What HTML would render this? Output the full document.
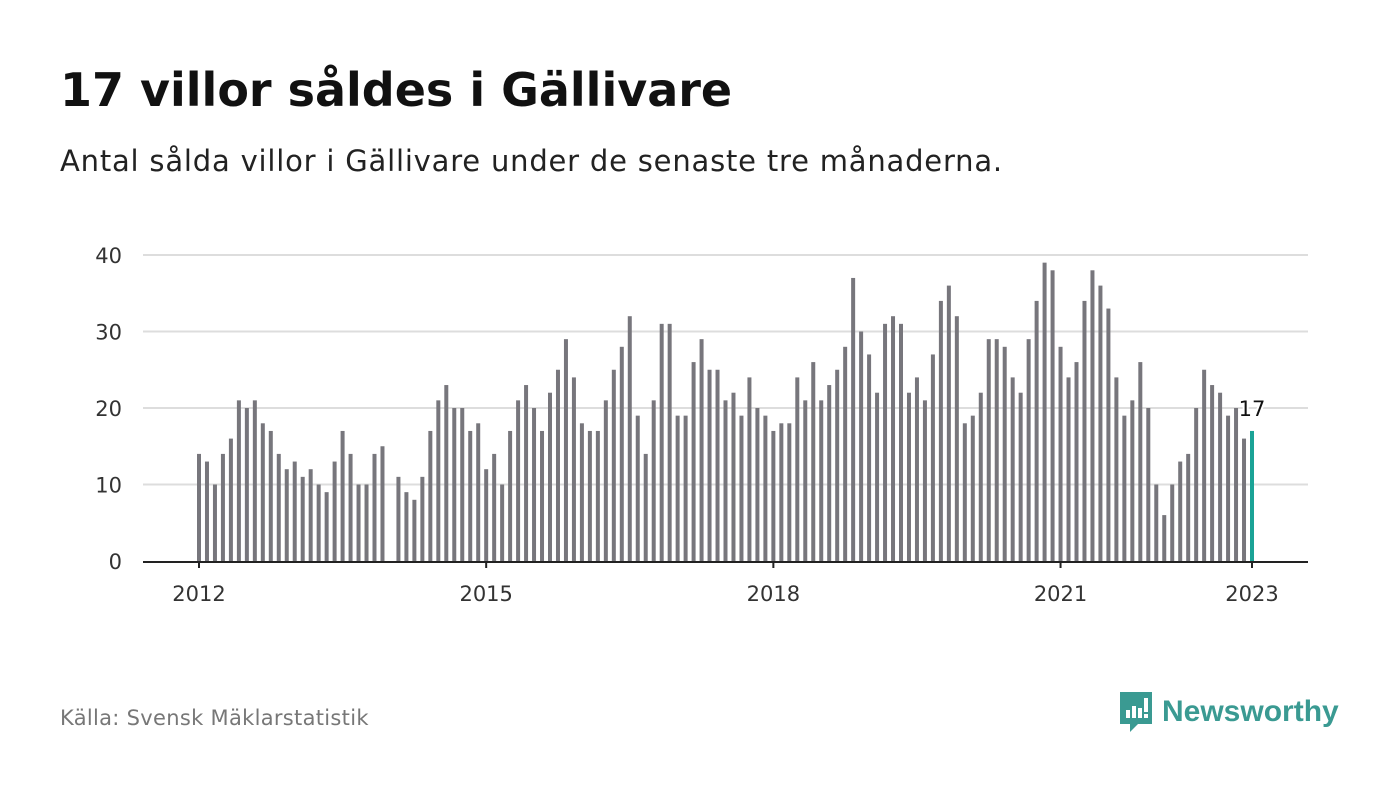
<!DOCTYPE html>
<html><head><meta charset="utf-8"><style>
body{margin:0;width:1400px;height:794px;background:#fff;font-family:"DejaVu Sans","Liberation Sans",sans-serif;overflow:hidden;position:relative}
h1{position:absolute;left:60px;top:63px;margin:0;font-size:46px;font-weight:bold;color:#111;white-space:nowrap}
.sub{position:absolute;left:60px;top:144px;font-size:29px;color:#222;letter-spacing:0.8px;white-space:nowrap}
.src{position:absolute;left:60px;top:706px;font-size:21px;color:#777;letter-spacing:0.3px;white-space:nowrap}
.logo{position:absolute;left:1118px;top:690px;display:flex;align-items:center}
.logo span{font-size:30px;font-weight:bold;color:#3a9a92;margin-left:8px;font-family:"Liberation Sans",sans-serif}
</style></head><body>
<h1>17 villor såldes i Gällivare</h1>
<div class="sub">Antal sålda villor i Gällivare under de senaste tre månaderna.</div>
<svg id="chart" width="1400" height="794" style="position:absolute;left:0;top:0"></svg>
<div class="src">Källa: Svensk Mäklarstatistik</div>
<div class="logo">
<svg width="36" height="44" viewBox="0 0 36 44"><path d="M2 2h32v32H20l-8 8v-8H2z" fill="#3a9a92"/><rect x="8" y="20" width="4" height="8" fill="#fff"/><rect x="14" y="16" width="4" height="12" fill="#fff"/><rect x="20" y="18" width="4" height="10" fill="#fff"/><rect x="26" y="8" width="4" height="14" fill="#fff"/><rect x="26" y="24" width="4" height="4" fill="#fff"/></svg>
<span>Newsworthy</span></div>
<script>
const values=[14,13,10,14,16,21,20,21,18,17,14,12,
13,11,12,10,9,13,17,14,10,10,14,15,
0,11,9,8,11,17,21,23,20,20,17,18,
12,14,10,17,21,23,20,17,22,25,29,24,
18,17,17,21,25,28,32,19,14,21,31,31,
19,19,26,29,25,25,21,22,19,24,20,19,
17,18,18,24,21,26,21,23,25,28,37,30,
27,22,31,32,31,22,24,21,27,34,36,32,
18,19,22,29,29,28,24,22,29,34,39,38,
28,24,26,34,38,36,33,24,19,21,26,20,
10,6,10,13,14,20,25,23,22,19,20,16,
17];
const yTicks=[0,10,20,30,40];
const xTickLabels=["2012","2015","2018","2021","2023"];
const xTickIndex=[0,36,72,108,132];
const svg=document.getElementById('chart');
const NS='http://www.w3.org/2000/svg';
const FF='DejaVu Sans, Liberation Sans, sans-serif';
const x0=199,step=(1252-199)/132,y0=561,yk=(561-255)/40;
const X=i=>x0+i*step, Y=v=>y0-v*yk;
function mk(t,a){const e=document.createElementNS(NS,t);for(const k in a)e.setAttribute(k,a[k]);svg.appendChild(e);return e;}
yTicks.forEach(t=>{
 if(t>0){const g=mk('line',{x1:143,x2:1308,y1:Y(t),y2:Y(t),stroke:'#ddd','stroke-width':2});
 
 }
 const l=mk('text',{x:122,y:Y(t)+8,'text-anchor':'end','font-size':21,fill:'#333','font-family':FF});
 l.textContent=t;
 
 
});
values.forEach((v,i)=>{
 if(v<=0)return;
 const last=i===values.length-1;
 const b=mk('rect',{x:X(i)-2,y:Y(v),width:4,height:v*yk,fill:last?'#1aa396':'#77767c'});
 
 
});
const ax=mk('line',{x1:143,x2:1308,y1:y0+1,y2:y0+1,stroke:'#222','stroke-width':2});


xTickIndex.forEach((idx,k)=>{
 const tk=mk('line',{x1:X(idx),x2:X(idx),y1:y0,y2:y0+7,stroke:'#222','stroke-width':2});
 
 
 const l=mk('text',{x:X(idx),y:601,'text-anchor':'middle','font-size':21,fill:'#333','font-family':FF});
 l.textContent=xTickLabels[k];
 
 
});
const li=values.length-1;
const vl=mk('text',{x:X(li),y:Y(values[li])-15,'text-anchor':'middle','font-size':21,fill:'#111','font-family':FF,stroke:'#fff','stroke-width':4,'paint-order':'stroke'});
vl.textContent=values[li];


</script>
</body></html>
